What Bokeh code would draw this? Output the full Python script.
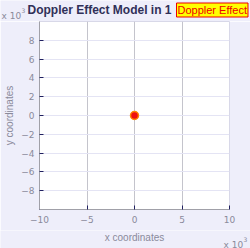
from bokeh.plotting import figure
from bokeh.models import Label, FixedTicker, Range1d
from bokeh.layouts import column
from bokeh.embed import file_html
from bokeh.resources import INLINE

title_text = "Doppler Effect Model in 1"
badge_text = "Doppler Effect"
scale_text = "x 10"
scale_exp = "3"
x_label = "x coordinates"
y_label = "y coordinates"
x_ticks = [-10, -5, 0, 5, 10]
y_ticks = [-8, -6, -4, -2, 0, 2, 4, 6, 8]
src_x = [0]
src_y = [0]

BG = "#eeeefa"
GREY = "#8a8a9a"


def strip(h):
    f = figure(width=250, height=h, output_backend="svg", toolbar_location=None,
               x_range=Range1d(0, 1), y_range=Range1d(0, 1), min_border=0,
               x_axis_type=None, y_axis_type=None, frame_align=False,
               background_fill_color=BG, border_fill_color=BG, outline_line_color=None)
    f.grid.visible = False
    return f


def scale_note(f, x, y):
    f.add_layout(Label(x=x, y=y, x_units="screen", y_units="screen", text=scale_text,
                       text_font="DejaVu Sans", text_font_size="9px", text_color=GREY,
                       text_baseline="alphabetic"))
    f.add_layout(Label(x=x + 20, y=y + 5, x_units="screen", y_units="screen", text=scale_exp,
                       text_font="DejaVu Sans", text_font_size="6px", text_color=GREY,
                       text_baseline="alphabetic"))


# top strip with the title texts
top = strip(21)
scale_note(top, 1, 6)
top.add_layout(Label(x=27, y=11.5, x_units="screen", y_units="screen", text=title_text,
                     text_font="Liberation Sans", text_font_size="12px", text_font_style="bold",
                     text_color="#303058", text_baseline="middle"))
top.add_layout(Label(x=176, y=11.5, x_units="screen", y_units="screen", text=badge_text,
                     text_font="Liberation Sans", text_font_size="11px",
                     text_color="#ee0000", text_baseline="middle", padding=1,
                     background_fill_color="#ffff00", border_line_color="#ee0000"))

p = figure(width=250, height=209, output_backend="svg", toolbar_location=None,
           x_range=Range1d(-10, 10), y_range=Range1d(-10, 10), frame_align=False,
           min_border_left=39, min_border_right=21, min_border_top=0, min_border_bottom=21,
           background_fill_color="white", border_fill_color=BG)
p.outline_line_color = "#d8d8e8"
for ax, ticks in ((p.xaxis[0], x_ticks), (p.yaxis[0], y_ticks)):
    ax.ticker = FixedTicker(ticks=ticks)
    ax.major_tick_in = 4
    ax.major_tick_out = 0
    ax.minor_tick_line_color = None
    ax.major_tick_line_color = "#202060"
    ax.axis_line_color = "#a0a0a8"
    ax.major_label_text_color = GREY
    ax.major_label_text_font = "DejaVu Sans"
    ax.major_label_text_font_size = "9px"
p.xaxis.major_label_standoff = 6
p.yaxis.major_label_standoff = 5
p.yaxis.axis_label = y_label
p.yaxis.axis_label_standoff = 3
p.yaxis.axis_label_text_color = GREY
p.yaxis.axis_label_text_font = "Liberation Sans"
p.yaxis.axis_label_text_font_size = "10px"
p.yaxis.axis_label_text_font_style = "normal"
p.xgrid.ticker = FixedTicker(ticks=x_ticks)
p.ygrid.ticker = FixedTicker(ticks=y_ticks)
p.xgrid.grid_line_color = "#c4c4cc"
p.ygrid.grid_line_color = "#e4e4f4"

p.scatter(src_x, src_y, size=8, fill_color="#ee1111", line_color="#ff8800", line_width=1.5)

# bottom strip with the x axis title and scale note
bot = strip(18)
bot.add_layout(Label(x=134, y=11, x_units="screen", y_units="screen", text=x_label,
                     text_font="Liberation Sans", text_font_size="10px", text_color=GREY,
                     text_align="center", text_baseline="alphabetic"))
scale_note(bot, 223, 4)

open("out.html", "w").write(file_html(column(top, p, bot, spacing=0), INLINE))
